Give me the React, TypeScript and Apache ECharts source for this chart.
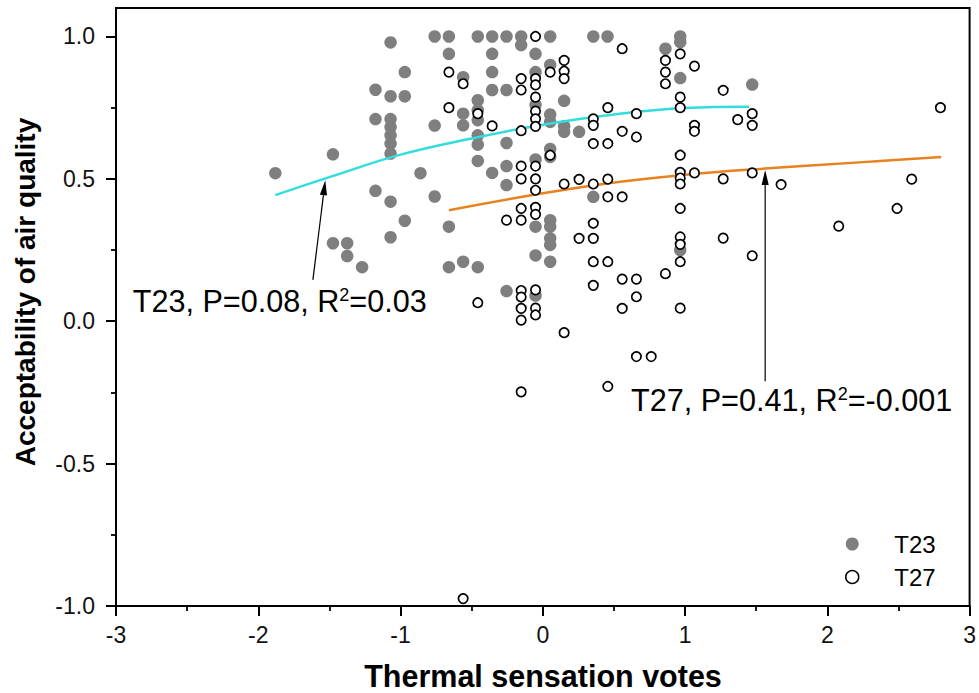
import React, { useEffect, useRef } from 'react';
import * as echarts from 'echarts';

const FONT = '"Liberation Sans", Arial, Helvetica, sans-serif';

// Axis ticks
const yTickValues = [-1.0, -0.5, 0.0, 0.5, 1.0];
const yMinorValues = [-0.75, -0.25, 0.25, 0.75];

// T23 (filled grey)
const t23Points: [number, number][] = [
  [-1.88, 0.52], [-1.475, 0.586], [-1.475, 0.274], [-1.375, 0.274], [-1.375, 0.229], [-1.27, 0.19],
  [-1.176, 0.813], [-1.176, 0.71], [-1.176, 0.458],
  [-1.07, 0.979], [-1.07, 0.79], [-1.07, 0.71], [-1.07, 0.682], [-1.07, 0.653], [-1.07, 0.624], [-1.07, 0.589], [-1.07, 0.42], [-1.07, 0.295],
  [-0.97, 0.875], [-0.97, 0.79], [-0.97, 0.353],
  [-0.86, 0.52],
  [-0.76, 1.0], [-0.76, 0.687], [-0.76, 0.438],
  [-0.66, 1.0], [-0.66, 0.939], [-0.66, 0.332], [-0.66, 0.19],
  [-0.56, 0.857], [-0.56, 0.729], [-0.56, 0.688], [-0.56, 0.209],
  [-0.457, 1.0], [-0.457, 0.776], [-0.457, 0.741], [-0.457, 0.706], [-0.457, 0.653], [-0.457, 0.62], [-0.457, 0.563], [-0.457, 0.19],
  [-0.356, 1.0], [-0.356, 0.939], [-0.356, 0.875], [-0.356, 0.812], [-0.356, 0.521],
  [-0.255, 1.0], [-0.255, 0.812], [-0.255, 0.626], [-0.255, 0.545], [-0.255, 0.478], [-0.255, 0.106],
  [-0.152, 1.0], [-0.152, 0.97],
  [-0.051, 0.939], [-0.051, 0.875], [-0.051, 0.76], [-0.051, 0.568], [-0.051, 0.332], [-0.051, 0.231], [-0.051, 0.09],
  [0.052, 1.0], [0.052, 0.9], [0.052, 0.726], [0.052, 0.7], [0.052, 0.605], [0.052, 0.577], [0.052, 0.355], [0.052, 0.332], [0.052, 0.291], [0.052, 0.268], [0.052, 0.209],
  [0.15, 0.774], [0.15, 0.685], [0.15, 0.665], [0.255, 0.665],
  [0.355, 1.0], [0.355, 0.437], [0.455, 1.0],
  [0.862, 0.957], [0.966, 1.0], [0.966, 0.98], [0.966, 0.854], [0.966, 0.25],
  [1.472, 0.831],
];

// T27 (open circles)
const t27Points: [number, number][] = [
  [-0.66, 0.875], [-0.66, 0.75], [-0.56, 0.834], [-0.56, -0.974],
  [-0.457, 0.729], [-0.457, 0.065], [-0.356, 0.686], [-0.255, 0.355],
  [-0.152, 0.852], [-0.152, 0.812], [-0.152, 0.669], [-0.152, 0.545], [-0.152, 0.5], [-0.152, 0.396], [-0.152, 0.355],
  [-0.152, 0.108], [-0.152, 0.085], [-0.152, 0.045], [-0.152, 0.004], [-0.152, -0.248],
  [-0.051, 1.0], [-0.051, 0.852], [-0.051, 0.83], [-0.051, 0.787], [-0.051, 0.738], [-0.051, 0.711], [-0.051, 0.684],
  [-0.051, 0.545], [-0.051, 0.5], [-0.051, 0.46], [-0.051, 0.4], [-0.051, 0.375], [-0.051, 0.11], [-0.051, 0.046], [-0.051, 0.022],
  [0.052, 0.875], [0.052, 0.583],
  [0.15, 0.916], [0.15, 0.878], [0.15, 0.852], [0.15, 0.482], [0.15, -0.04],
  [0.255, 0.498], [0.255, 0.291],
  [0.355, 0.711], [0.355, 0.688], [0.355, 0.624], [0.355, 0.482], [0.355, 0.344], [0.355, 0.291], [0.355, 0.209], [0.355, 0.126],
  [0.457, 0.75], [0.457, 0.624], [0.457, 0.499], [0.457, 0.437], [0.457, 0.209], [0.457, -0.229],
  [0.558, 0.957], [0.558, 0.667], [0.558, 0.437], [0.558, 0.148], [0.558, 0.045],
  [0.658, 0.729], [0.658, 0.647], [0.658, 0.148], [0.658, 0.086], [0.658, -0.124], [0.762, -0.124],
  [0.862, 0.916], [0.862, 0.875], [0.862, 0.834], [0.862, 0.167],
  [0.966, 0.939], [0.966, 0.787], [0.966, 0.75], [0.966, 0.583], [0.966, 0.523], [0.966, 0.503], [0.966, 0.482],
  [0.966, 0.396], [0.966, 0.296], [0.966, 0.27], [0.966, 0.209], [0.966, 0.046],
  [1.066, 0.896], [1.066, 0.688], [1.066, 0.667], [1.066, 0.521],
  [1.268, 0.811], [1.268, 0.5], [1.268, 0.292], [1.37, 0.708],
  [1.472, 0.729], [1.472, 0.688], [1.472, 0.521], [1.472, 0.23],
  [1.675, 0.48], [2.08, 0.334], [2.49, 0.396], [2.593, 0.499], [2.795, 0.75],
];

// Fitted curves
const fitT23X = [-1.88, -1.5, -1.0, -0.5, 0.0, 0.5, 1.0, 1.45];
const fitT23Y = [0.443, 0.506, 0.585, 0.642, 0.69, 0.726, 0.749, 0.753];
const fitT27X = [-0.66, -0.05, 0.45, 0.97, 1.56, 2.2, 2.8];
const fitT27Y = [0.39, 0.445, 0.484, 0.513, 0.536, 0.557, 0.577];

// Annotation arrows: [xFrom, yFrom, xTo, yTo]
const arrowT23 = [-1.616, 0.145, -1.529, 0.495];
const arrowT27 = [1.563, -0.211, 1.563, 0.531];

const labelT23 = 'T23, P=0.08, R{sup|2}=0.03';
const labelT27 = 'T27, P=0.41, R{sup|2}=-0.001';

export default function App() {
  const ref = useRef<HTMLDivElement>(null);

  useEffect(() => {
    if (!ref.current) return;
    const chart = echarts.init(ref.current, undefined, { renderer: 'svg' });

    const supRich = {
      sup: { fontSize: 18, fontFamily: FONT, fill: '#000', lineHeight: 18, verticalAlign: 'top' },
    };

    const option: any = {
      animation: false,
      backgroundColor: '#fff',
      grid: {
        left: 116, right: 9, top: 8, bottom: 87,
        show: true, borderColor: '#000', borderWidth: 2, backgroundColor: 'transparent',
      },
      xAxis: {
        type: 'value', min: -3, max: 3, interval: 1,
        axisLine: { show: true, onZero: false, lineStyle: { color: '#000', width: 2 } },
        axisTick: { show: true, length: 10, lineStyle: { color: '#000', width: 2 } },
        minorTick: { show: true, splitNumber: 2, length: 5, lineStyle: { color: '#000', width: 1.8 } },
        axisLabel: { margin: 17, fontSize: 23, color: '#111', fontFamily: FONT },
        splitLine: { show: false },
        minorSplitLine: { show: false },
      },
      yAxis: [
        {
          type: 'value', min: -1, max: 1.1, interval: 0.5, position: 'left',
          axisLine: { show: true, onZero: false, lineStyle: { color: '#000', width: 2 } },
          axisTick: { show: true, length: 10, customValues: yTickValues, lineStyle: { color: '#000', width: 2 } },
          axisLabel: {
            customValues: yTickValues, margin: 21, fontSize: 23, color: '#111', fontFamily: FONT,
            formatter: (v: number) => v.toFixed(1),
          },
          splitLine: { show: false },
        },
        {
          type: 'value', min: -1, max: 1.1, position: 'left',
          axisLine: { show: false, onZero: false },
          axisTick: { show: true, length: 5, customValues: yMinorValues, lineStyle: { color: '#000', width: 1.8 } },
          axisLabel: { show: false },
          splitLine: { show: false },
        },
      ],
      legend: {
        orient: 'vertical', left: 840, top: 527,
        itemWidth: 74, itemHeight: 13, itemGap: 9,
        selectedMode: false,
        textStyle: { fontSize: 24, color: '#000', fontFamily: FONT, lineHeight: 24 },
        data: [
          { name: 'T23', icon: 'circle', itemStyle: { color: '#7f7f7f', borderWidth: 0 } },
          { name: 'T27', icon: 'circle', itemStyle: { color: '#fff', borderColor: '#000', borderWidth: 1.5 } },
        ],
      },
      series: [
        {
          name: 'T23', type: 'scatter', data: t23Points, symbol: 'circle', symbolSize: 12.5,
          itemStyle: { color: '#7f7f7f', opacity: 1 }, z: 2, silent: true,
        },
        {
          name: 'fitT23', type: 'line', data: fitT23X.map((x, i) => [x, fitT23Y[i]]),
          smooth: 0.4, showSymbol: false, symbol: 'none',
          lineStyle: { color: '#33dddd', width: 2.5 }, z: 3, silent: true,
        },
        {
          name: 'fitT27', type: 'line', data: fitT27X.map((x, i) => [x, fitT27Y[i]]),
          smooth: 0.4, showSymbol: false, symbol: 'none',
          lineStyle: { color: '#e8821e', width: 2.5 }, z: 3, silent: true,
        },
        {
          name: 'T27', type: 'scatter', data: t27Points, symbol: 'circle', symbolSize: 9.4,
          itemStyle: { color: '#fff', borderColor: '#000', borderWidth: 1.7, opacity: 1 }, z: 4, silent: true,
        },
        {
          name: 'arrows', type: 'custom', coordinateSystem: 'cartesian2d',
          data: [arrowT23, arrowT27], encode: { x: [0, 2], y: [1, 3] }, z: 5, silent: true, clip: false,
          renderItem: (_params: any, api: any) => {
            const a = api.coord([api.value(0), api.value(1)]);
            const b = api.coord([api.value(2), api.value(3)]);
            const dx = b[0] - a[0];
            const dy = b[1] - a[1];
            const len = Math.hypot(dx, dy) || 1;
            const ux = dx / len;
            const uy = dy / len;
            const headLen = 15;
            const headHalf = 3.6;
            const base = [b[0] - ux * headLen, b[1] - uy * headLen];
            const px = -uy;
            const py = ux;
            return {
              type: 'group',
              children: [
                {
                  type: 'line',
                  shape: { x1: a[0], y1: a[1], x2: base[0], y2: base[1] },
                  style: { stroke: '#000', lineWidth: 1.2 },
                },
                {
                  type: 'polygon',
                  shape: {
                    points: [
                      [b[0], b[1]],
                      [base[0] + px * headHalf, base[1] + py * headHalf],
                      [base[0] - px * headHalf, base[1] - py * headHalf],
                    ],
                  },
                  style: { fill: '#000' },
                },
              ],
            };
          },
        },
      ],
      graphic: [
        {
          type: 'text', x: 543, y: 676, silent: true,
          style: {
            text: 'Thermal sensation votes', fontSize: 30.5, fontWeight: 'bold', fontFamily: FONT, fill: '#000',
            align: 'center', verticalAlign: 'middle', textAlign: 'center', textVerticalAlign: 'middle',
          },
        },
        {
          type: 'text', x: 25, y: 292, rotation: Math.PI / 2, silent: true,
          style: {
            text: 'Acceptability of air quality', fontSize: 28, fontWeight: 'bold', fontFamily: FONT, fill: '#000',
            align: 'center', verticalAlign: 'middle', textAlign: 'center', textVerticalAlign: 'middle',
          },
        },
        {
          type: 'text', x: 132.7, y: 301, silent: true,
          style: {
            text: labelT23, fontSize: 30.6, fontFamily: FONT, fill: '#000', lineHeight: 30,
            align: 'left', verticalAlign: 'middle', textAlign: 'left', textVerticalAlign: 'middle',
            rich: supRich,
          },
        },
        {
          type: 'text', x: 631, y: 400, silent: true,
          style: {
            text: labelT27, fontSize: 30.6, fontFamily: FONT, fill: '#000', lineHeight: 30,
            align: 'left', verticalAlign: 'middle', textAlign: 'left', textVerticalAlign: 'middle',
            rich: supRich,
          },
        },
      ],
    };

    chart.setOption(option);
    return () => chart.dispose();
  }, []);

  return (
    <div
      ref={ref}
      style={{ position: 'fixed', left: 0, top: 0, width: 979, height: 693, background: '#fff' }}
    />
  );
}
